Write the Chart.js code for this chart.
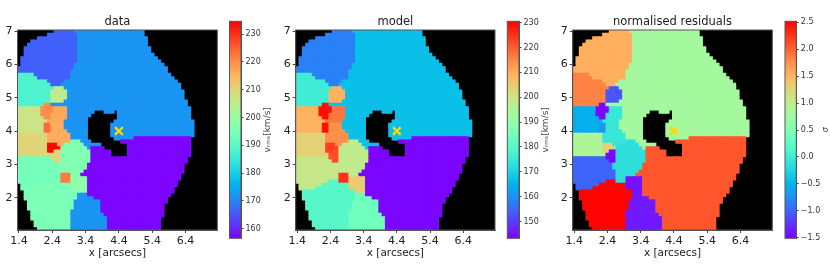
<!DOCTYPE html>
<html><head><meta charset="utf-8">
<script src="https://cdn.jsdelivr.net/npm/chart.js@4"></script>
<style>
html,body{margin:0;padding:0;background:#fff;width:830px;height:275px;overflow:hidden}
canvas{position:absolute;top:0;filter:blur(0.5px)}
</style></head><body>
<canvas id="m1" width="225" height="275" style="left:0px"></canvas>
<canvas id="b1" width="60" height="275" style="left:220px"></canvas>
<canvas id="m2" width="225" height="275" style="left:278px"></canvas>
<canvas id="b2" width="60" height="275" style="left:498px"></canvas>
<canvas id="m3" width="225" height="275" style="left:555px"></canvas>
<canvas id="b3" width="60" height="275" style="left:770px"></canvas>
<script>
// Bin map: 60 rows from the top; each token = region letter + column where it ends ('.' = no data)
const binMap = [
".11 A17 B38",".9 A18 B38",".6 A18 B39",".4 A18 B39",".3 A18 B39",".2 A18 B40",".2 A18 B40",".2 A18 B41",
".1 A18 B42",".1 A18 B43",".1 A17 B44","A17 B45","A16 B45","C5 A16 B46","C6 A16 B47","C9 A14 B48",
"C10 A13 B49","C11 D14 B49","C10 D15 B50","C10 D15 B50","C10 D15 B50","C10 D14 B51","C8 G10 B51",
"E7 G11 H15 B52","E7 G11 H15 B23 .26 B29 .30 B52","E7 G10 H15 B22 .30 B52","E8 G10 H15 B21 .30 B52",
"E9 H14 B21 .29 B53","E8 F10 I14 B21 .28 B53","E8 F10 I14 B21 .28 B53","E8 F10 I15 B21 .28 B53",
"L9 I16 B21 .28 B53","L9 I16 B21 .29 B35 S52","L9 I16 O19 B22 .31 S52","L9 J12 I14 O20 B25 .33 S52",
"L9 J13 O21 B22 S26 .33 S52","L9 J11 K13 O22 S28 .33 S52","L10 K13 O22 S28 .33 S52",
"M10 K13 O22 S51","M11 K13 O22 S51","M12 O21 S50","M12 O21 S50","M13 O20 S50","M13 P16 O19 S49",
"M13 P16 Q21 S49","M10 N13 P16 Q21 S48",".1 M8 N16 Q21 S48",".1 M6 N16 Q21 S47",".2 N18 Q21 S47",
".2 N18 R21 S46",".2 N18 R23 S45",".3 N17 R25 S45",".3 N17 R25 S44",".3 N17 R25 S44",".4 N16 R25 S44",
".4 N16 R26 S44",".4 N16 R27 S43",".5 N16 R27 S43",".5 N16 R27 S43",".6 N16 R27 S43"];
// Region values per panel
const dataValues  = {A:166,B:172,C:188,D:205,E:207,F:224,G:220,H:216.5,I:216,J:234,K:210,L:210,M:194,N:195,O:196,P:222,Q:198,R:172,S:157};
const modelValues = {A:158,B:167,C:176,D:209,E:209,F:229,G:229,H:217,I:214,J:223.5,K:222,L:204,M:199,N:180,O:198,P:225,Q:205,R:184,S:144};
const residValues = {A:1.55,B:0.79,C:1.83,D:-1.07,E:-0.54,F:-0.7,G:-1.47,H:-0.06,I:-0.06,J:1.27,K:-1.47,L:0.87,M:-0.99,N:2.5,O:-0.14,P:-0.14,Q:-1.42,R:-1.39,S:2.08};
const xTicks = [1.4,2.4,3.4,4.4,5.4,6.4];
const yTicks = [2,3,4,5,6,7];
const cbTicks1 = [160,170,180,190,200,210,220,230];
const cbTicks2 = [150,160,170,180,190,200,210,220,230];
const cbTicks3 = [-1.5,-1,-0.5,0,0.5,1,1.5,2,2.5];
const centre = [{x:4.4,y:4.0}];
const xLimits = [1.355,7.355], yLimits = [1.03,7.03], cell = 0.1;

const FONT = "'DejaVu Sans'";
function rainbow(t){
  t=Math.max(0,Math.min(1,t));
  const r=Math.min(1,Math.abs(2*t-0.5)),g=Math.sin(Math.PI*t),b=Math.cos(Math.PI*t/2);
  return `rgb(${Math.round(r*255)},${Math.round(g*255)},${Math.round(b*255)})`;
}
function cells(values){
  const out=[];
  binMap.forEach((row,r)=>{
    let c=0;
    row.split(' ').forEach(tok=>{
      const id=tok[0],end=+tok.slice(1);
      for(;c<end;c++) if(id!=='.') out.push({x:xLimits[0]+(c+.5)*cell,y:yLimits[1]-(r+.5)*cell,v:values[id]});
    });
  });
  return out;
}
const frame={id:'frame',
  beforeDatasetsDraw(ch,a,o){ if(o.fill){const A=ch.chartArea;ch.ctx.save();ch.ctx.fillStyle=o.fill;ch.ctx.fillRect(A.left,A.top,A.width,A.height);ch.ctx.restore();}},
  afterDatasetsDraw(ch,a,o){const A=ch.chartArea,c=ch.ctx;c.save();c.strokeStyle='#555';c.lineWidth=1;c.strokeRect(A.left,A.top,A.width,A.height);c.restore();},
};
const sideLabel={id:'sideLabel',afterDraw(ch,a,o){
  if(!o.text)return;const c=ch.ctx;c.save();c.translate(o.x,(ch.chartArea.top+ch.chartArea.bottom)/2);c.rotate(-Math.PI/2);
  c.font=o.font;c.fillStyle='#444';c.textAlign='center';c.textBaseline='middle';c.fillText(o.text,0,0);c.restore();}};
function mainChart(id,title,values,lo,hi,yw){
  const pts=cells(values);
  new Chart(document.getElementById(id),{type:'scatter',plugins:[frame],
    data:{datasets:[
      {data:centre,pointStyle:'crossRot',pointRadius:5.5,pointBorderColor:'#FFD700',pointBorderWidth:2.2,pointBackgroundColor:'#FFD700'},
      {data:pts,pointStyle:'rect',pointRadius:3.05,pointBorderWidth:0,
       pointBackgroundColor:c=>rainbow((c.raw.v-lo)/(hi-lo))}
    ]},
    options:{responsive:false,animation:false,events:[],layout:{padding:{left:0,right:id==='m2'?8:7.3,top:0,bottom:0}},
      plugins:{legend:{display:false},tooltip:{enabled:false},frame:{fill:'#000'},
        title:{display:true,text:title,fullSize:false,color:'#222',font:{family:FONT,size:11.5,weight:'normal'},padding:{top:15,bottom:1.2}}},
      scales:{
        x:{type:'linear',min:xLimits[0],max:xLimits[1],
          afterBuildTicks:s=>{s.ticks=xTicks.map(v=>({value:v}))},afterFit:s=>{s.height=45},
          border:{color:'#555'},grid:{drawOnChartArea:false,tickLength:3,tickColor:'#444'},
          ticks:{autoSkip:false,maxRotation:0,padding:2,color:'#222',font:{family:FONT,size:11},callback:v=>v.toFixed(1)},
          title:{display:true,text:'x [arcsecs]',color:'#222',font:{family:FONT,size:10.5},padding:{top:0,bottom:15.7}}},
        y:{type:'linear',min:yLimits[0],max:yLimits[1],
          afterBuildTicks:s=>{s.ticks=yTicks.map(v=>({value:v}))},afterFit:s=>{s.width=yw},
          border:{color:'#555'},grid:{drawOnChartArea:false,tickLength:3,tickColor:'#444'},
          ticks:{autoSkip:false,padding:2,color:'#222',font:{family:FONT,size:11},callback:v=>String(v)}}
      }}});
}
function colorBar(id,ticks,lo,hi,fmt,label,labelFont,labelX,barW){
  new Chart(document.getElementById(id),{type:'bar',plugins:[frame,sideLabel],
    data:{labels:['c'],datasets:[{data:[[lo,hi]],barPercentage:1,categoryPercentage:1,
      backgroundColor:c=>{const A=c.chart.chartArea;if(!A)return '#888';
        const g=c.chart.ctx.createLinearGradient(0,A.bottom,0,A.top);
        for(let i=0;i<=32;i++)g.addColorStop(i/32,rainbow(i/32));return g;}}]},
    options:{responsive:false,animation:false,events:[],
      layout:{padding:{left:barW[0],right:0,top:21.3,bottom:36.7}},
      plugins:{legend:{display:false},tooltip:{enabled:false},title:{display:false},
        sideLabel:{text:label,font:labelFont,x:labelX}},
      scales:{
        x:{display:false},
        y:{position:'right',min:lo,max:hi,
          afterBuildTicks:s=>{s.ticks=ticks.map(v=>({value:v}))},afterFit:s=>{s.width=60-barW[0]-barW[1]},
          border:{color:'#555'},grid:{drawOnChartArea:false,tickLength:2.5,tickColor:'#444'},
          ticks:{autoSkip:false,padding:2,color:'#333',font:{family:FONT,size:8},callback:fmt}}
      }}});
}
const f0=v=>String(v), f1=v=>v.toFixed(1).replace('-','\u2212');
const lab="italic 8px "+FONT;
mainChart('m1','data',dataValues,156.5,234.6,17.5);
mainChart('m2','model',modelValues,143.3,230.5,17.7);
mainChart('m3','normalised residuals',residValues,-1.51,2.52,17.7);
colorBar('b1',cbTicks1,156.5,234.6,f0,'v\u1d63\u2098\u209b[km/s]',"9px "+FONT,47.5,[9.5,11.5]);
colorBar('b2',cbTicks2,143.3,230.5,f0,'v\u1d63\u2098\u209b[km/s]',"9px "+FONT,47.5,[9.3,11.7]);
colorBar('b3',cbTicks3,-1.51,2.52,f1,'\u03c3',lab,55.7,[15,11.3]);
</script>
</body></html>
